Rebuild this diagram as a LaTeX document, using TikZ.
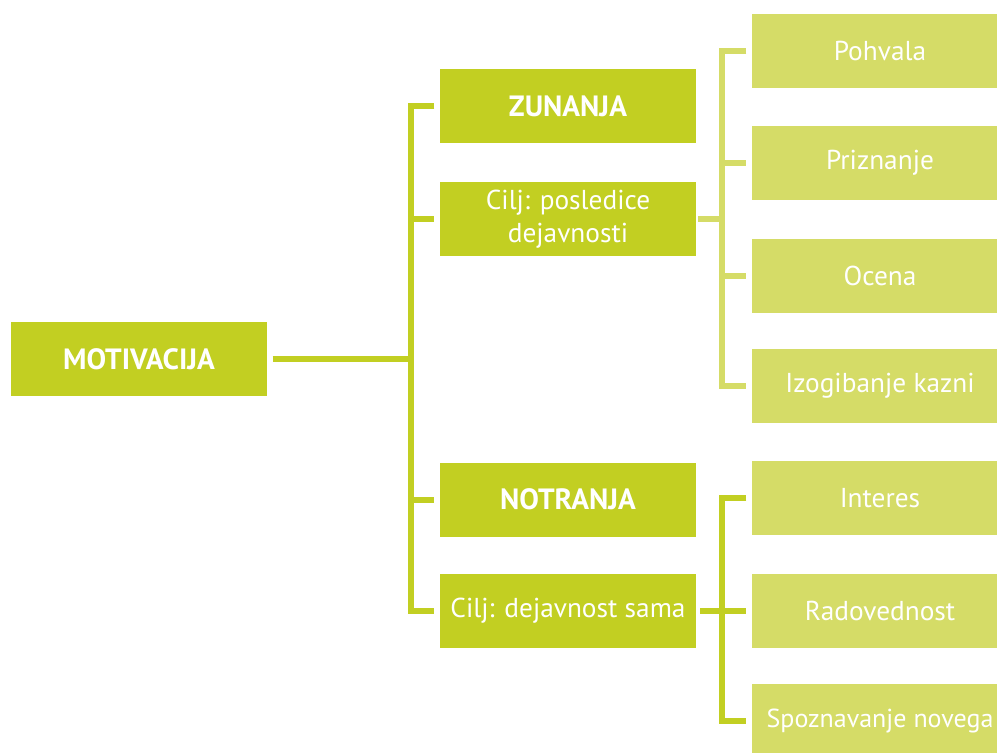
\documentclass[tikz,border=0pt]{standalone}
\usepackage{fontspec}
\setmainfont{PT Sans}
\definecolor{leafdark}{RGB}{194,207,34}
\definecolor{leaflight}{RGB}{213,220,103}

\tikzset{
  box/.style={rectangle,inner sep=0pt,minimum width=192pt,minimum height=55.5pt,
              text=white,font=\fontsize{20.5}{25}\selectfont,align=center},
  mainbox/.style={box,fill=leafdark,font=\fontsize{22}{25}\selectfont\bfseries},
  midbox/.style={box,fill=leafdark},
  leafbox/.style={box,fill=leaflight},
  trunk/.style={draw=leafdark,line width=4.5pt,line join=miter},
  twig/.style={draw=leaflight,line width=4.5pt,line join=miter}
}

\begin{document}
\begin{tikzpicture}[x=0.75pt,y=-0.75pt]
\useasboundingbox (0,0) rectangle (997,753);

% boxes
\node[mainbox] (mot) at (139,359) {MOTIVACIJA};
\node[mainbox] (zun) at (568,106) {ZUNANJA};
\node[midbox] (cilj1) at (568,219) {Cilj: posledice\\dejavnosti};
\node[mainbox] (notr) at (568,499.5) {NOTRANJA};
\node[midbox] (cilj2) at (568,610.5) {Cilj: dejavnost sama};

\node[leafbox] (pohv) at (880,51) {Pohvala};
\node[leafbox] (priz) at (880,162.5) {Priznanje};
\node[leafbox] (ocena) at (880,276) {Ocena};
\node[leafbox] (izog) at (880,386) {Izogibanje kazni};

\node[leafbox] (inter) at (880,498) {Interes};
\node[leafbox] (rad) at (880,610.5) {Radovednost};
\node[leafbox,font=\fontsize{19.5}{25}\selectfont] (spozn) at (880,721) {Spoznavanje novega};

% connectors
\coordinate (bar1) at (411,359);
\coordinate (bar2) at (722,219);
\coordinate (bar3) at (722,610.5);

\draw[trunk] ([xshift=4pt]mot.east) -- (bar1);
\draw[trunk] ([xshift=-4pt]zun.west) -| (bar1) |- ([xshift=-4pt]cilj2.west);
\draw[trunk] (bar1 |- cilj1) -- ([xshift=-4pt]cilj1.west);
\draw[trunk] (bar1 |- notr) -- ([xshift=-4pt]notr.west);

\draw[twig] ([xshift=1.5pt]cilj1.east) -- (bar2);
\draw[twig] ([xshift=-4pt]pohv.west) -| (bar2) |- ([xshift=-4pt]izog.west);
\draw[twig] (bar2 |- priz) -- ([xshift=-4pt]priz.west);
\draw[twig] (bar2 |- ocena) -- ([xshift=-4pt]ocena.west);

\draw[trunk] ([xshift=-4pt]inter.west) -| (bar3) |- ([xshift=-4pt]spozn.west);
\draw[trunk] ([xshift=3pt]cilj2.east) -- ([xshift=-4pt]rad.west);
\end{tikzpicture}
\end{document}
